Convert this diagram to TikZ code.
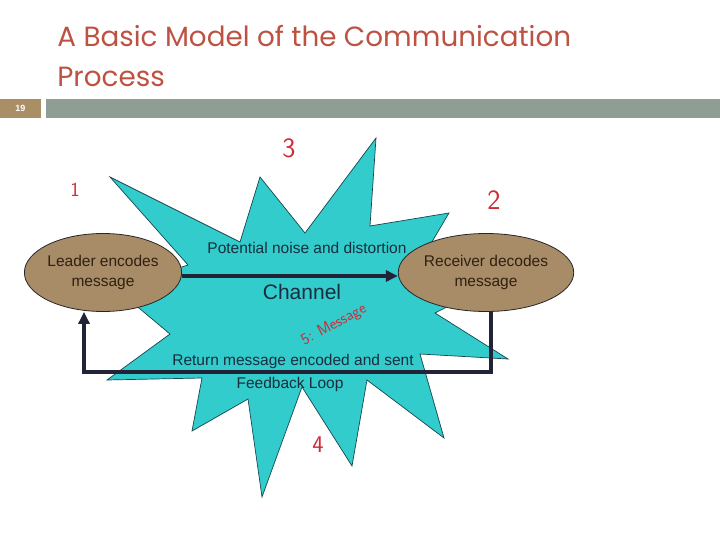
\documentclass[tikz,border=0pt]{standalone}
\usepackage{fontspec}
\setmainfont{Liberation Sans}
\newfontfamily\titlefont{Poppins}
\usetikzlibrary{arrows.meta,shapes.geometric}

\definecolor{titlered}{RGB}{190,82,66}
\definecolor{bargray}{RGB}{143,158,148}
\definecolor{numtan}{RGB}{170,142,102}
\definecolor{burst}{RGB}{51,204,204}
\definecolor{burstedge}{RGB}{20,70,80}
\definecolor{partytan}{RGB}{168,140,104}
\definecolor{linenavy}{RGB}{35,35,55}
\definecolor{inkred}{RGB}{205,45,55}
\definecolor{labeltext}{RGB}{25,45,60}

\begin{document}
\begin{tikzpicture}[x=1pt,y=-1pt,>={Triangle[length=12pt,width=11pt]},line width=0.8pt]
%x and y in pixels, y downwards

  \tikzstyle{party}=[ellipse,draw=black!85,fill=partytan,minimum width=156pt,minimum height=78pt,inner sep=0pt,align=center,text=black!75!brown,font=\fontsize{15.5}{20}\selectfont]
  \tikzstyle{flow}=[draw=linenavy,line width=4pt,line join=miter]
  \tikzstyle{lbl}=[text=labeltext,inner sep=0pt,font=\fontsize{15.5}{18}\selectfont]
  \tikzstyle{ink}=[text=inkred,inner sep=0pt]

  \useasboundingbox (0,0) rectangle (720,540);

  % header
  \node[anchor=base west,inner sep=0pt,text=titlered,font=\titlefont\fontsize{27.8}{40}\selectfont] (title1) at (57,47) {A Basic Model of the Communication};
  \node[anchor=base west,inner sep=0pt,text=titlered,font=\titlefont\fontsize{27.8}{40}\selectfont] (title2) at (57,87) {Process};
  \fill[numtan] (0,99) rectangle (41,118);
  \fill[bargray] (46,99) rectangle (720,118);
  \node[text=white,font=\bfseries\fontsize{9}{9}\selectfont] (slide) at (20.5,108.5) {19};

  % noise burst
  \filldraw[fill=burst,draw=burstedge,line width=0.7pt]
    (188,265) -- (110,177) -- (240,242) -- (260,177) -- (305,233) -- (376,138)
    -- (370,226) -- (449,213) -- (420,262) -- (492,284) -- (435,313) -- (508,359)
    -- (420,354) -- (444,438) -- (367,380) -- (352,466) -- (302,387) -- (262,497)
    -- (248,399) -- (192,431) -- (202,378) -- (107,380) -- (170,334) -- (115,288) -- cycle;

  \node[party] (leader) at (103,272.5) {Leader encodes\\message};
  \node[party] (receiver) at (486,272.5) {Receiver decodes\\message};

  \coordinate (fbright) at (491,372);
  \coordinate (fbleft) at (84,372);

  \draw[flow,->] ([yshift=-3.5pt]leader.east) -- ([yshift=-3.5pt]receiver.west);
  \draw[flow,->] (receiver.south -| fbright) -- (fbright) -- (fbleft) -- (fbleft |- leader.south);

  \node[lbl] (noise) at (307,248) {Potential noise and distortion};
  \node[lbl,font=\fontsize{21}{24}\selectfont] (channel) at (302,292) {Channel};
  \node[lbl] (return) at (293,361) {Return message encoded and sent};
  \node[lbl] (loop) at (290,384) {Feedback Loop};

  % hand notes
  \node[ink,font=\sffamily\fontsize{20}{20}\selectfont] (n1) at (75,190) {1};
  \node[ink,font=\sffamily\fontsize{28}{28}\selectfont] (n2) at (494,200) {2};
  \node[ink,font=\sffamily\fontsize{28}{28}\selectfont] (n3) at (289,148) {3};
  \node[ink,font=\sffamily\fontsize{24}{24}\selectfont] (n4) at (318,445) {4};
  \node[ink,rotate=28,font=\sffamily\fontsize{16}{16}\selectfont] (n5) at (334,325) {5: Message};

\end{tikzpicture}
\end{document}
